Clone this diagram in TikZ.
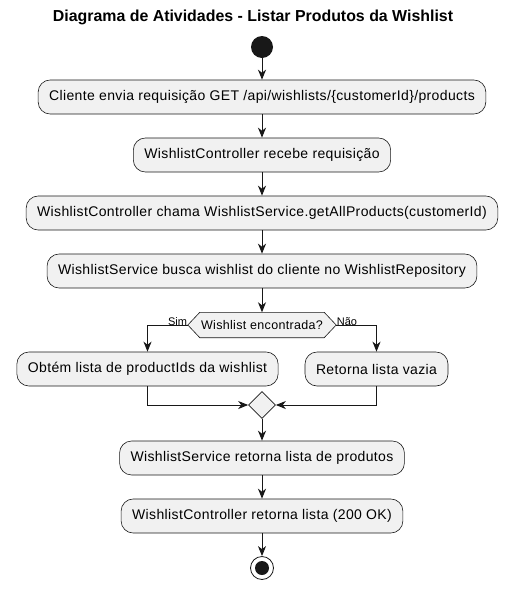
\documentclass[tikz,border=0pt]{standalone}
\usepackage{fontspec}
\setmainfont{Liberation Sans}
\usetikzlibrary{arrows.meta,shapes.geometric}
\definecolor{boxfill}{HTML}{F1F1F1}
\definecolor{ink}{HTML}{181818}
\newfontfamily\actfont[LetterSpace=2.6]{Liberation Sans}
\begin{document}
\begin{tikzpicture}[x=1pt,y=-1pt,
  act/.style={draw=ink,fill=boxfill,rounded corners=12pt,line width=0.6pt,minimum height=34pt,inner xsep=11pt,inner ysep=0pt,font=\actfont\fontsize{14}{16}\selectfont,text=black},
  flow/.style={draw=ink,line width=1pt,-{Stealth[length=10pt,width=8pt,inset=3pt]}},
  lbl/.style={font=\fontsize{11}{13}\selectfont,inner sep=0.5pt,text=black}]
\useasboundingbox (0,0) rectangle (512,595);
\node[font=\bfseries\fontsize{15.9}{18}\selectfont] (title) at (253,17) {Diagrama de Atividades - Listar Produtos da Wishlist};
\node[circle,fill=ink,minimum size=22pt,inner sep=0pt] (start) at (262,47) {};
\node[act] (b1) at (262,97) {Cliente envia requisição GET /api/wishlists/\{customerId\}/products};
\node[act] (b2) at (262,155) {WishlistController recebe requisição};
\node[act] (b3) at (262,213) {WishlistController chama WishlistService.getAllProducts(customerId)};
\node[act] (b4) at (262,271) {WishlistService busca wishlist do cliente no WishlistRepository};
\node[minimum width=148pt,minimum height=25pt,inner sep=0pt] (dec) at (262,325) {};
\draw[draw=ink,fill=boxfill,line width=0.6pt] (dec.west) -- ([xshift=12pt]dec.north west) -- ([xshift=-12pt]dec.north east) -- (dec.east) -- ([xshift=-12pt]dec.south east) -- ([xshift=12pt]dec.south west) -- cycle;
\node[font=\actfont\fontsize{12.5}{14}\selectfont] (dectext) at (dec.center) {Wishlist encontrada?};
\node[act] (b5) at (147.5,369) {Obtém lista de productIds da wishlist};
\node[act] (b6) at (376.5,369) {Retorna lista vazia};
\node[diamond,draw=ink,fill=boxfill,line width=0.6pt,minimum size=27pt,inner sep=0pt] (m) at (262,405) {};
\node[act] (b7) at (262,458) {WishlistService retorna lista de produtos};
\node[act] (b8) at (262,516) {WishlistController retorna lista (200 OK)};
\node[circle,draw=ink,fill=white,line width=0.8pt,minimum size=23pt,inner sep=0pt] (end) at (262,568) {};
\node[circle,fill=ink,minimum size=14pt,inner sep=0pt] (endin) at (end.center) {};
\draw[flow] (start) -- (b1);
\draw[flow] (b1) -- (b2);
\draw[flow] (b2) -- (b3);
\draw[flow] (b3) -- (b4);
\draw[flow] (b4) -- (dec.north);
\draw[flow] (dec.west) -| (b5.north);
\draw[flow] (dec.east) -| (b6.north);
\node[lbl,anchor=south east] (sim) at ([yshift=-1pt]dec.west) {Sim};
\node[lbl,anchor=south west] (nao) at ([yshift=-1pt]dec.east) {Não};
\draw[flow] (b5.south) |- (m.west);
\draw[flow] (b6.south) |- (m.east);
\draw[flow] (m) -- (b7);
\draw[flow] (b7) -- (b8);
\draw[flow] (b8) -- (end);
\end{tikzpicture}
\end{document}
